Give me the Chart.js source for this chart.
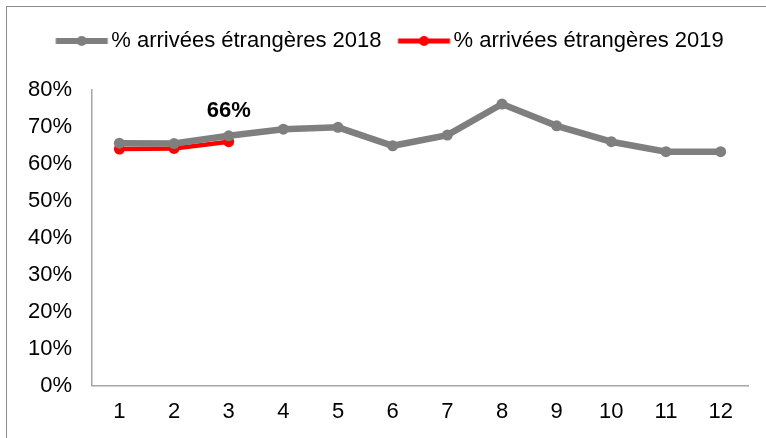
<!DOCTYPE html>
<html>
<head>
<meta charset="utf-8">
<script src="https://cdn.jsdelivr.net/npm/chart.js@4"></script>
<style>
  html, body { margin: 0; padding: 0; background: #fff; overflow: hidden; }
  #frame { position: absolute; left: 6px; top: 6px; width: 1000px; height: 1000px; border-left: 1.5px solid #8c8c8c; border-top: 1.5px solid #8c8c8c; }
  #wrap { position: absolute; left: 0; top: 0; width: 766px; height: 438px; }
</style>
</head>
<body>
<div id="frame"></div>
<div id="wrap"><canvas id="c" width="766" height="438"></canvas></div>
<script>
const categories = ['1','2','3','4','5','6','7','8','9','10','11','12'];
const series2018 = [65.6, 65.5, 67.6, 69.4, 69.9, 64.9, 67.8, 76.2, 70.3, 66.0, 63.3, 63.3];
const series2019 = [64.0, 64.2, 66.0, null, null, null, null, null, null, null, null, null];
const seriesNames = ['% arrivées étrangères 2018', '% arrivées étrangères 2019'];
const yTicks = [0, 10, 20, 30, 40, 50, 60, 70, 80];
const labelText = '66%';

const FONT = "'Liberation Sans', Arial, sans-serif";
const FS = 22;
const GRAY = '#7f7f7f';
const RED = '#ff0000';

function legendIcon(color, lw) {
  const cv = document.createElement('canvas');
  cv.width = 60; cv.height = 14;
  const g = cv.getContext('2d');
  g.strokeStyle = color; g.lineWidth = lw; g.lineCap = 'butt';
  g.beginPath(); g.moveTo(6.5, 7); g.lineTo(58.5, 7); g.stroke();
  g.fillStyle = color;
  g.beginPath(); g.arc(32.5, 7, 5, 0, Math.PI * 2); g.fill();
  return cv;
}
const icons = [legendIcon(GRAY, 6), legendIcon(RED, 5)];

const legendAdjust = {
  id: 'legendAdjust',
  afterInit(chart) {
    const l = chart.legend;
    if (!l) return;
    const f = l.fit;
    l.fit = function () { f.call(this); this.height += 28; };
  },
  afterLayout(chart) {
    const l = chart.legend;
    if (!l) return;
    l.left += 13; l.right += 13;
  }
};

const pointLabel = {
  id: 'pointLabel',
  afterDatasetsDraw(chart) {
    const meta = chart.getDatasetMeta(1);
    const pt = meta.data[2];
    if (!pt) return;
    const ctx = chart.ctx;
    ctx.save();
    ctx.font = "bold " + FS + "px " + FONT;
    ctx.fillStyle = '#000';
    ctx.textAlign = 'center';
    ctx.textBaseline = 'middle';
    ctx.fillText(labelText, pt.x, pt.y - 31);
    ctx.restore();
  }
};

new Chart(document.getElementById('c'), {
  type: 'line',
  data: {
    labels: categories,
    datasets: [
      { label: seriesNames[0], data: series2018, borderColor: GRAY, backgroundColor: GRAY,
        borderWidth: 6.5, pointRadius: 5.5, pointHoverRadius: 5.5, pointBorderWidth: 0, tension: 0 },
      { label: seriesNames[1], data: series2019, borderColor: RED, backgroundColor: RED,
        borderWidth: 4.5, pointRadius: 5.5, pointHoverRadius: 5.5, pointBorderWidth: 0, tension: 0 }
    ]
  },
  options: {
    responsive: false,
    animation: false,
    layout: { padding: { left: 8, right: 18, top: 11, bottom: 0 } },
    plugins: {
      tooltip: { enabled: false },
      legend: {
        position: 'top',
        labels: {
          usePointStyle: true,
          pointStyleWidth: 42,
          padding: 19,
          color: '#000',
          font: { family: FONT, size: FS },
          generateLabels(chart) {
            return chart.data.datasets.map((ds, i) => ({
              text: ds.label, pointStyle: icons[i], fillStyle: ds.borderColor,
              strokeStyle: ds.borderColor, lineWidth: 0, hidden: false, datasetIndex: i, fontColor: '#000'
            }));
          }
        }
      }
    },
    scales: {
      x: {
        offset: true,
        grid: { display: false, drawTicks: false },
        border: { display: true, color: '#a6a6a6', width: 1.5 },
        ticks: { color: '#000', padding: 13, font: { family: FONT, size: FS }, maxRotation: 0 }
      },
      y: {
        min: 0, max: 80,
        afterBuildTicks(scale) { scale.ticks = yTicks.map(v => ({ value: v })); },
        grid: { display: false, drawTicks: false },
        border: { display: true, color: '#a6a6a6', width: 1.5 },
        ticks: { color: '#000', padding: 20, font: { family: FONT, size: FS }, callback: v => v + '%' }
      }
    }
  },
  plugins: [legendAdjust, pointLabel]
});
</script>
</body>
</html>
